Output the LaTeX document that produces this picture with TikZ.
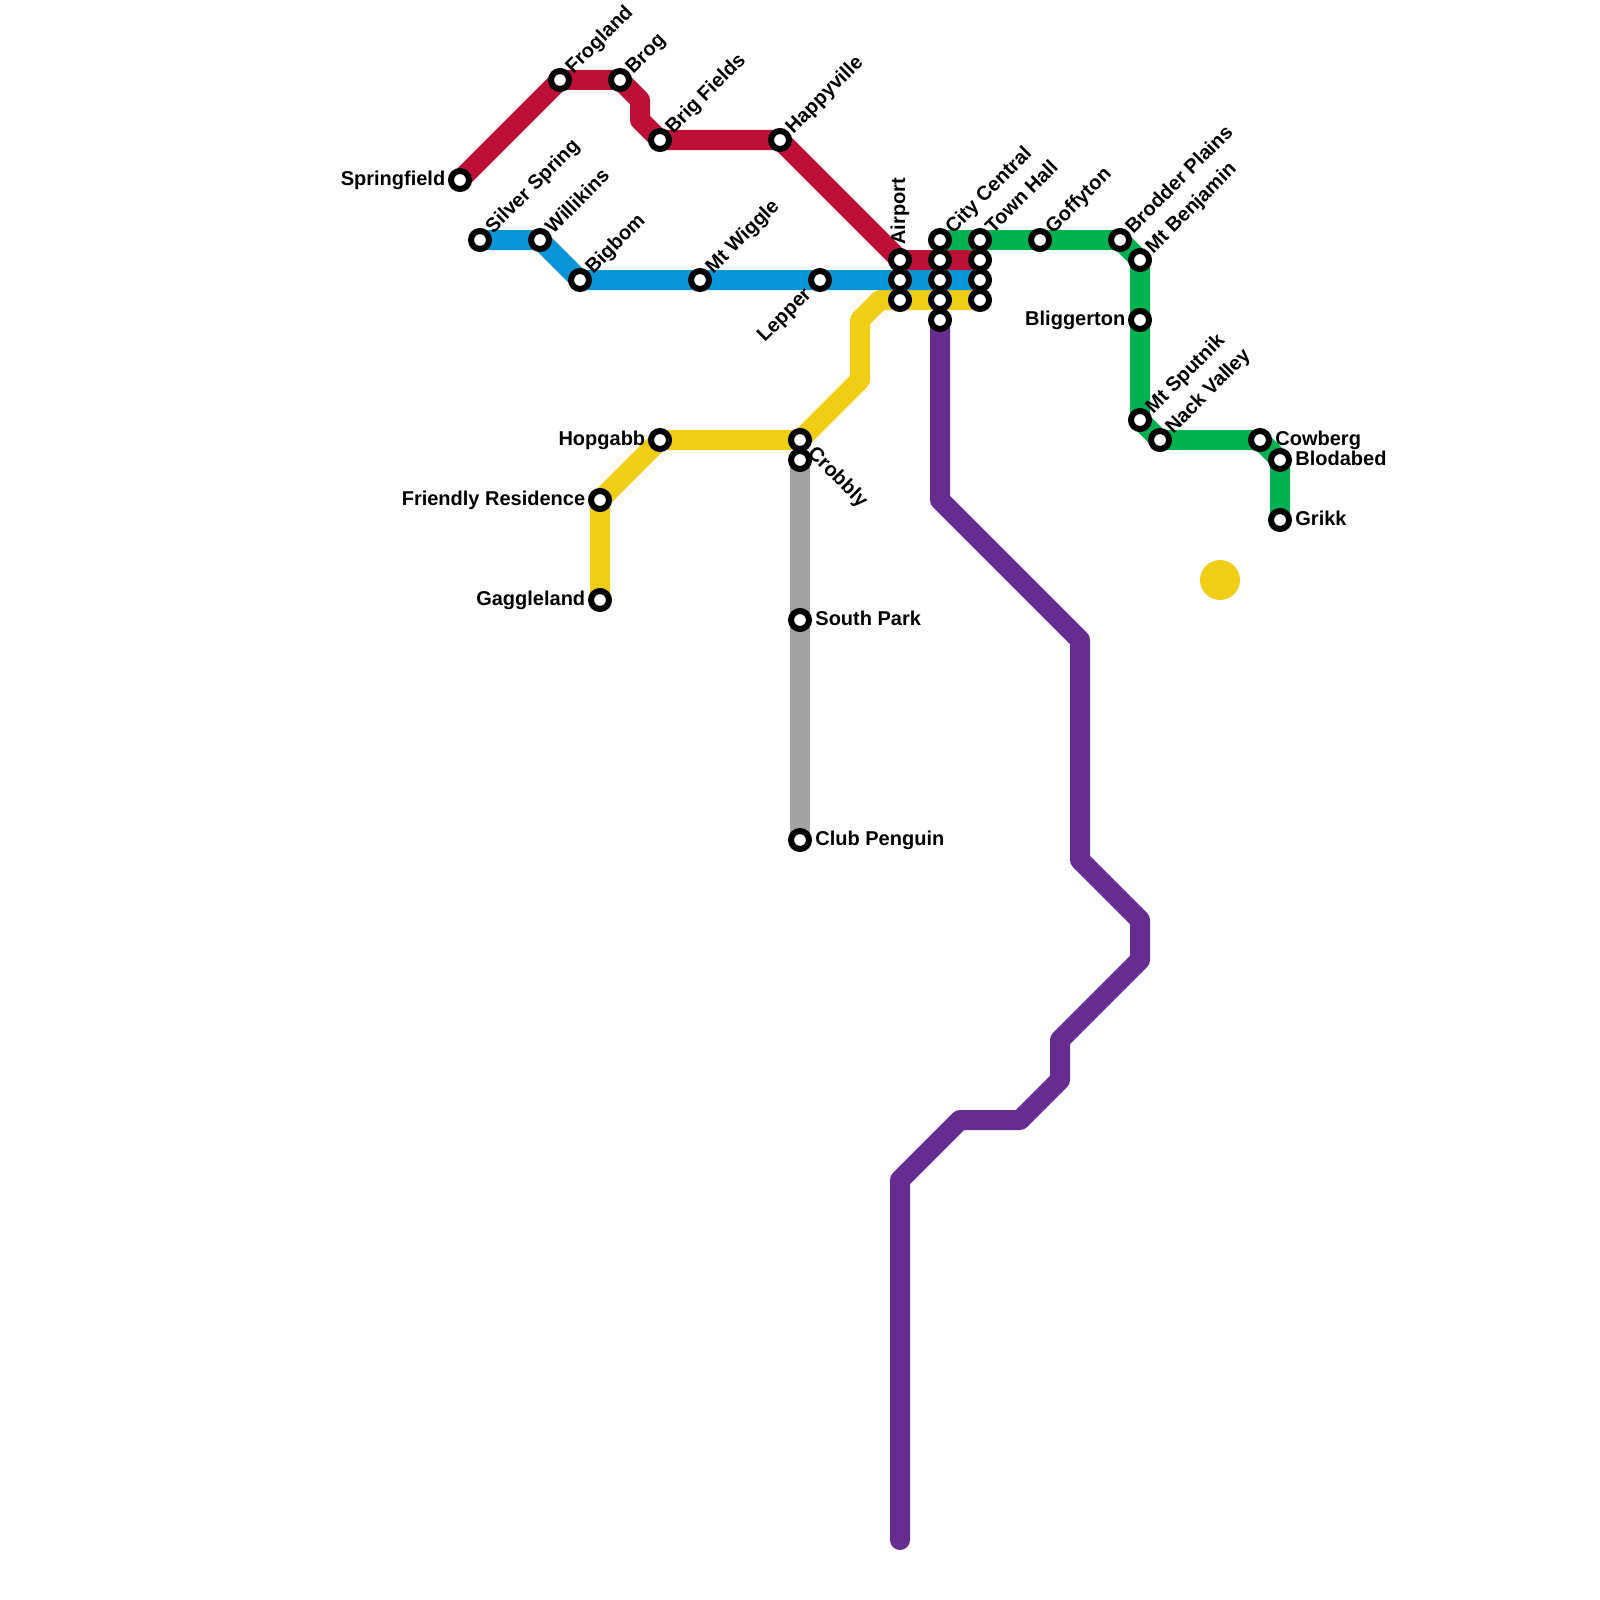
\documentclass[tikz,border=0pt]{standalone}
\usepackage{fontspec}
\setmainfont{Liberation Sans}
\definecolor{redline}{RGB}{189,16,55}
\definecolor{blueline}{RGB}{9,150,216}
\definecolor{yellowline}{RGB}{240,206,21}
\definecolor{greenline}{RGB}{0,177,79}
\definecolor{purpleline}{RGB}{102,44,144}
\definecolor{grayline}{RGB}{162,162,162}
\tikzset{
  x=0.5pt,y=-0.5pt,
  metro/.style={line width=10pt,line join=round,line cap=butt},
  stn/.style={circle,draw=black,fill=white,line width=3pt,minimum size=9pt,inner sep=0pt},
  lab/.style={font=\bfseries\fontsize{10}{12}\selectfont,text=black,inner sep=0pt},
  labdiag/.style={lab,anchor=base west,xshift=6.5pt,yshift=2.75pt,rotate=45},
  labdown/.style={lab,anchor=base west,xshift=3.3pt,yshift=-7.15pt,rotate=-45},
  labupleft/.style={lab,anchor=base east,xshift=-3.8pt,yshift=-7.65pt,rotate=45},
  labup/.style={lab,anchor=base west,xshift=2.5pt,yshift=7.5pt,rotate=90},
  lableft/.style={lab,anchor=base east,xshift=-7.2pt,yshift=-2.5pt},
  labright/.style={lab,anchor=base west,xshift=7.5pt,yshift=-2.5pt},
}
\begin{document}
\begin{tikzpicture}
\useasboundingbox (0,0) rectangle (1600,1600);
% coordinates
\foreach \n/\x/\y in {
 springfield/460/180,frogland/560/80,brog/620/80,brigfields/660/140,happyville/780/140,
 airporta/900/260,airportb/900/280,airportc/900/300,
 silver/480/240,willikins/540/240,bigbom/580/280,wiggle/700/280,lepper/820/280,
 gaggle/600/600,friendly/600/500,hopgabb/660/440,crobblya/800/440,crobblyb/800/460,
 southpark/800/620,penguin/800/840,
 cca/940/240,ccb/940/260,ccc/940/280,ccd/940/300,cce/940/320,
 tha/980/240,thb/980/260,thc/980/280,thd/980/300,
 goffyton/1040/240,brodder/1120/240,benjamin/1140/260,bliggerton/1140/320,
 sputnik/1140/420,nack/1160/440,cowberg/1260/440,blodabed/1280/460,grikk/1280/520}
 {\coordinate (p\n) at (\x,\y);}
% lines
\draw[metro,purpleline,line cap=round] (pcce) -- (940,500) -- (1080,640) -- (1080,860) -- (1140,920) -- (1140,960) -- (1060,1040) -- (1060,1080) -- (1020,1120) -- (960,1120) -- (900,1180) -- (900,1540);
\draw[metro,grayline] (pcrobblyb) -- (psouthpark) -- (ppenguin);
\draw[metro,yellowline] (pgaggle) -- (pfriendly) -- (phopgabb) -- (pcrobblya) -- (860,380) -- (860,320) -- (880,300) -- (pairportc) -- (pccd) -- (pthd);
\draw[metro,blueline] (psilver) -- (pwillikins) -- (pbigbom) -- (pwiggle) -- (plepper) -- (pairportb) -- (pccc) -- (pthc);
\draw[metro,redline] (pspringfield) -- (pfrogland) -- (pbrog) -- (640,100) -- (640,120) -- (pbrigfields) -- (phappyville) -- (pairporta) -- (pccb) -- (pthb);
\draw[metro,greenline] (pcca) -- (ptha) -- (pgoffyton) -- (pbrodder) -- (pbenjamin) -- (pbliggerton) -- (psputnik) -- (pnack) -- (pcowberg) -- (pblodabed) -- (pgrikk);
\fill[yellowline] (1220,580) circle (10pt);
% stations
\foreach \n in {springfield,frogland,brog,brigfields,happyville,airporta,airportb,airportc,
 silver,willikins,bigbom,wiggle,lepper,gaggle,friendly,hopgabb,crobblya,crobblyb,southpark,penguin,
 cca,ccb,ccc,ccd,cce,tha,thb,thc,thd,goffyton,brodder,benjamin,bliggerton,sputnik,nack,cowberg,blodabed,grikk}
 {\node[stn] (s\n) at (p\n) {};}
% labels
\node[lableft] (l1) at (pspringfield) {Springfield};
\node[labdiag] (l2) at (pfrogland) {Frogland};
\node[labdiag] (l3) at (pbrog) {Brog};
\node[labdiag] (l4) at (pbrigfields) {Brig Fields};
\node[labdiag] (l5) at (phappyville) {Happyville};
\node[labdiag] (l6) at (psilver) {Silver Spring};
\node[labdiag] (l7) at (pwillikins) {Willikins};
\node[labdiag] (l8) at (pbigbom) {Bigbom};
\node[labdiag] (l9) at (pwiggle) {Mt Wiggle};
\node[labupleft] (l10) at (plepper) {Lepper};
\node[labup] (l11) at (pairporta) {Airport};
\node[labdiag] (l12) at (pcca) {City Central};
\node[labdiag] (l13) at (ptha) {Town Hall};
\node[labdiag] (l14) at (pgoffyton) {Goffyton};
\node[labdiag] (l15) at (pbrodder) {Brodder Plains};
\node[labdiag] (l16) at (pbenjamin) {Mt Benjamin};
\node[lableft] (l17) at (pbliggerton) {Bliggerton};
\node[labdiag] (l18) at (psputnik) {Mt Sputnik};
\node[labdiag] (l19) at (pnack) {Nack Valley};
\node[labright] (l20) at (pcowberg) {Cowberg};
\node[labright] (l21) at (pblodabed) {Blodabed};
\node[labright] (l22) at (pgrikk) {Grikk};
\node[lableft] (l23) at (phopgabb) {Hopgabb};
\node[lableft] (l24) at (pfriendly) {Friendly Residence};
\node[lableft] (l25) at (pgaggle) {Gaggleland};
\node[labdown] (l26) at (pcrobblya) {Crobbly};
\node[labright] (l27) at (psouthpark) {South Park};
\node[labright] (l28) at (ppenguin) {Club Penguin};
\end{tikzpicture}
\end{document}
